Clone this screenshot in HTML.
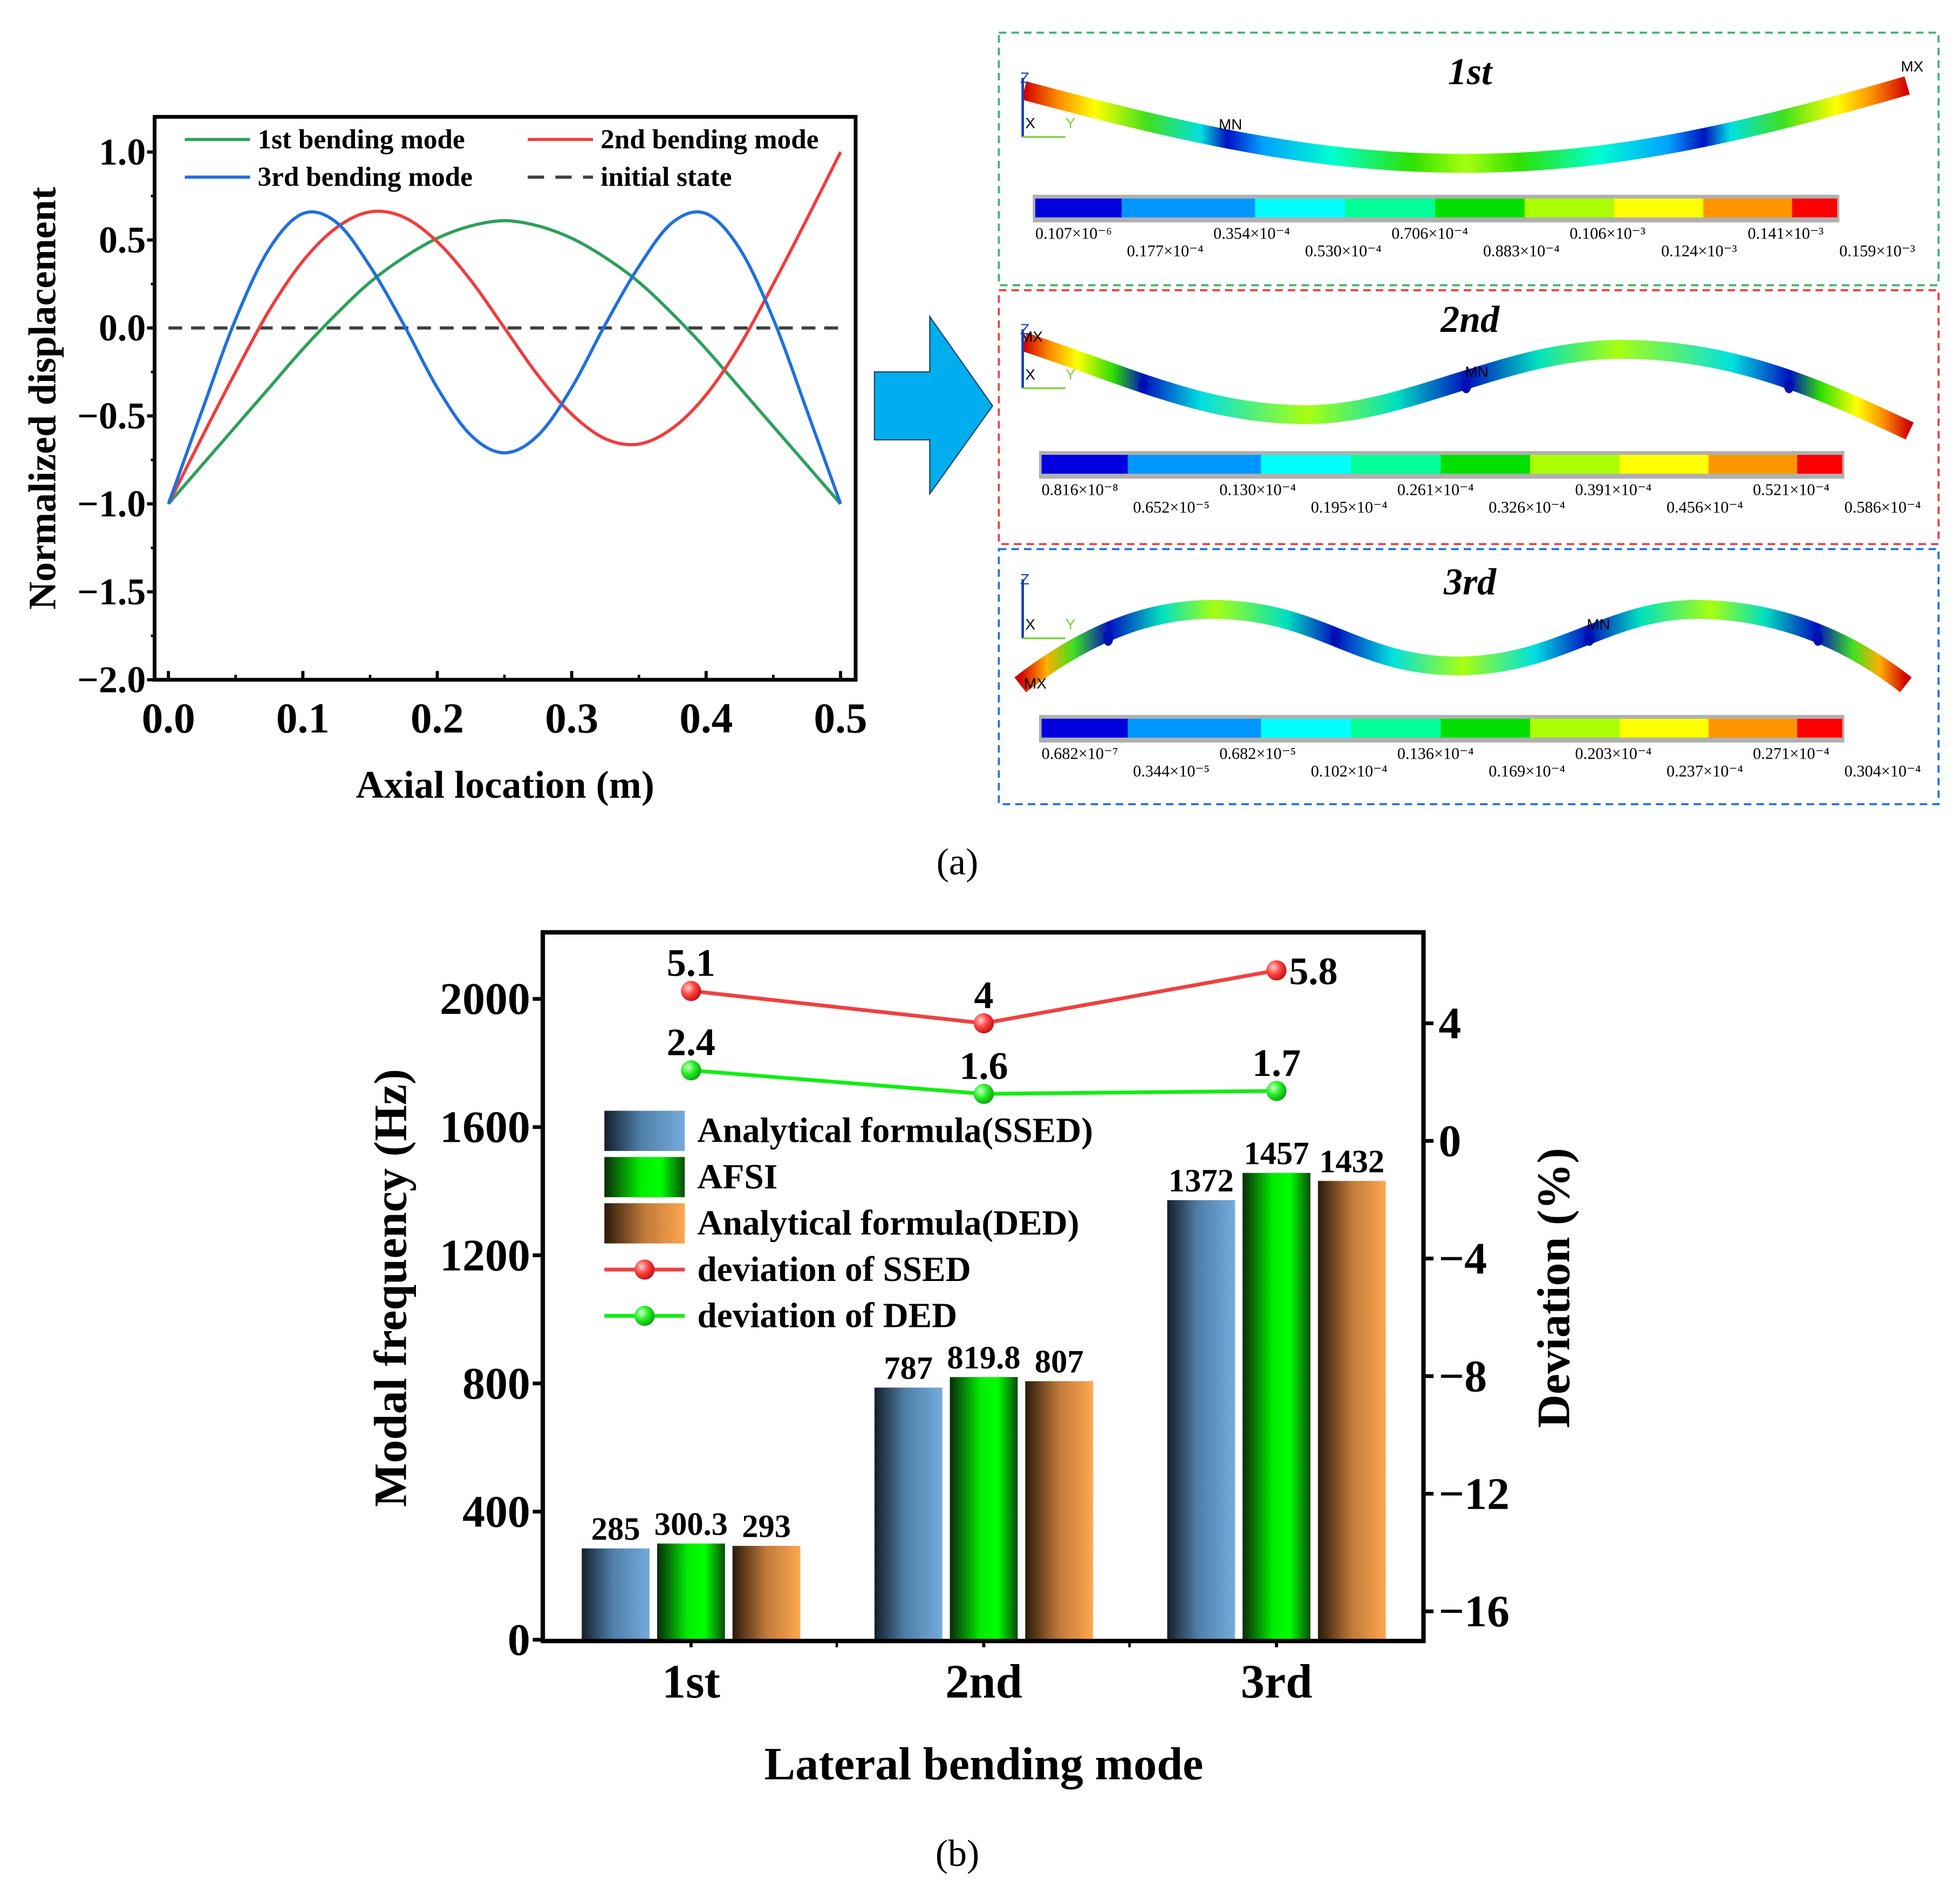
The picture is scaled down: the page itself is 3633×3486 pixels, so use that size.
<!DOCTYPE html>
<html><head><meta charset="utf-8"><style>
html,body{margin:0;padding:0;background:#fff;}
svg{display:block;font-family:"Liberation Serif",serif;}
</style></head><body>
<svg id="fig" width="3633" height="3486" viewBox="0 0 1560 1497" xmlns="http://www.w3.org/2000/svg">
<defs>
<linearGradient id="gBlue" x1="0" x2="1" y1="0" y2="0"><stop offset="0" stop-color="#141e2a"/><stop offset="0.45" stop-color="#4f7fa8"/><stop offset="1" stop-color="#74abdc"/></linearGradient>
<linearGradient id="gGreen" x1="0" x2="1" y1="0" y2="0"><stop offset="0" stop-color="#0a2a0a"/><stop offset="0.45" stop-color="#00ee00"/><stop offset="0.7" stop-color="#00ff00"/><stop offset="1" stop-color="#0a4a0a"/></linearGradient>
<linearGradient id="gOrange" x1="0" x2="1" y1="0" y2="0"><stop offset="0" stop-color="#2a1a0a"/><stop offset="0.5" stop-color="#c07a3a"/><stop offset="1" stop-color="#ffa74f"/></linearGradient>
<radialGradient id="bRed" cx="0.35" cy="0.35" r="0.7"><stop offset="0" stop-color="#ffd0d0"/><stop offset="0.5" stop-color="#ff4040"/><stop offset="1" stop-color="#c01010"/></radialGradient>
<radialGradient id="bGreen" cx="0.35" cy="0.35" r="0.7"><stop offset="0" stop-color="#d0ffd0"/><stop offset="0.5" stop-color="#22ee22"/><stop offset="1" stop-color="#10a010"/></radialGradient>
<linearGradient id="beam1" x1="0" x2="1"><stop offset="0" stop-color="#d00000"/><stop offset="0.04" stop-color="#ff9000"/><stop offset="0.08" stop-color="#ffff00"/><stop offset="0.14" stop-color="#40e020"/><stop offset="0.2" stop-color="#00e0e0"/><stop offset="0.23" stop-color="#0010c0"/><stop offset="0.27" stop-color="#00a0ff"/><stop offset="0.35" stop-color="#00ffd0"/><stop offset="0.44" stop-color="#30e000"/><stop offset="0.5" stop-color="#a8ff10"/><stop offset="0.56" stop-color="#30e000"/><stop offset="0.65" stop-color="#00ffd0"/><stop offset="0.73" stop-color="#00a0ff"/><stop offset="0.77" stop-color="#0010c0"/><stop offset="0.8" stop-color="#00e0e0"/><stop offset="0.86" stop-color="#40e020"/><stop offset="0.92" stop-color="#ffff00"/><stop offset="0.96" stop-color="#ff9000"/><stop offset="1" stop-color="#d00000"/></linearGradient>
<linearGradient id="beam2" x1="0" x2="1"><stop offset="0" stop-color="#d00000"/><stop offset="0.03" stop-color="#ff9000"/><stop offset="0.06" stop-color="#ffff00"/><stop offset="0.1" stop-color="#30e000"/><stop offset="0.135" stop-color="#0010c0"/><stop offset="0.2" stop-color="#00e0e0"/><stop offset="0.32" stop-color="#a8ff10"/><stop offset="0.42" stop-color="#00e0c0"/><stop offset="0.5" stop-color="#0010c0"/><stop offset="0.58" stop-color="#00e0c0"/><stop offset="0.67" stop-color="#a8ff10"/><stop offset="0.8" stop-color="#00e0e0"/><stop offset="0.865" stop-color="#0010c0"/><stop offset="0.9" stop-color="#30e000"/><stop offset="0.94" stop-color="#ffff00"/><stop offset="0.97" stop-color="#ff9000"/><stop offset="1" stop-color="#d00000"/></linearGradient>
<linearGradient id="beam3" x1="0" x2="1"><stop offset="0" stop-color="#d00000"/><stop offset="0.03" stop-color="#ffb000"/><stop offset="0.06" stop-color="#40e020"/><stop offset="0.1" stop-color="#0010c0"/><stop offset="0.16" stop-color="#00e0c0"/><stop offset="0.22" stop-color="#a8ff10"/><stop offset="0.3" stop-color="#00e0c0"/><stop offset="0.356" stop-color="#0010c0"/><stop offset="0.42" stop-color="#00e0e0"/><stop offset="0.5" stop-color="#a8ff10"/><stop offset="0.58" stop-color="#00e0e0"/><stop offset="0.642" stop-color="#0010c0"/><stop offset="0.7" stop-color="#00e0c0"/><stop offset="0.78" stop-color="#a8ff10"/><stop offset="0.84" stop-color="#00e0c0"/><stop offset="0.9" stop-color="#0010c0"/><stop offset="0.94" stop-color="#40e020"/><stop offset="0.97" stop-color="#ffb000"/><stop offset="1" stop-color="#d00000"/></linearGradient>
</defs>
<g id="panelA"></g>
<g id="arrow"><polygon points="696,296 740,296 740,252 790,323 740,393 740,350 696,350" fill="#00aeef" stroke="#1a4a6a" stroke-width="1"/></g>
<g id="fe"></g>
<g id="panelB"></g>
<text x="762" y="696" font-size="30" text-anchor="middle">(a)</text>
<text x="762" y="1485" font-size="30" text-anchor="middle">(b)</text>
</svg>
<script>
// ---------- Panel (a) data ----------
const axialX = [0,0.025,0.05,0.075,0.1,0.125,0.15,0.175,0.2,0.225,0.25,0.275,0.3,0.325,0.35,0.375,0.4,0.425,0.45,0.475,0.5];
const mode1 = [-1,-0.78,-0.56,-0.34,-0.12,0.08,0.26,0.40,0.51,0.58,0.61,0.58,0.51,0.40,0.26,0.08,-0.12,-0.34,-0.56,-0.78,-1];
const mode2 = [-1,-0.62,-0.25,0.10,0.38,0.57,0.66,0.63,0.49,0.27,0,-0.27,-0.49,-0.63,-0.66,-0.57,-0.38,-0.10,0.25,0.62,1];
const mode3 = [-1,-0.47,0.05,0.45,0.65,0.60,0.35,0.02,-0.34,-0.61,-0.71,-0.61,-0.34,0.02,0.35,0.60,0.65,0.45,0.05,-0.47,-1];
const xTicksA = [0,0.1,0.2,0.3,0.4,0.5];
const xTickLabelsA = ["0.0","0.1","0.2","0.3","0.4","0.5"];
const yTicksA = [1,0.5,0,-0.5,-1,-1.5,-2];
const yTickLabelsA = ["1.0","0.5","0.0","\u22120.5","\u22121.0","\u22121.5","\u22122.0"];
// ---------- Panel (b) data ----------
const categories = ["1st","2nd","3rd"];
const freqSSED = [285,787,1372];
const freqAFSI = [300.3,819.8,1457];
const freqDED = [293,807,1432];
const labelsSSED = ["285","787","1372"];
const labelsAFSI = ["300.3","819.8","1457"];
const labelsDED = ["293","807","1432"];
const devSSED = [5.1,4,5.8];
const devDED = [2.4,1.6,1.7];
const devSSEDLabels = ["5.1","4","5.8"];
const devDEDLabels = ["2.4","1.6","1.7"];
const yTicksB = [0,400,800,1200,1600,2000];
const yTicksR = [4,0,-4,-8,-12,-16];
const yTickLabelsR = ["4","0","\u22124","\u22128","\u221212","\u221216"];

const NS="http://www.w3.org/2000/svg";
function mk(tag,attrs,parent,txt){const e=document.createElementNS(NS,tag);for(const k in attrs)e.setAttribute(k,attrs[k]);if(txt!==undefined)e.textContent=txt;parent.appendChild(e);return e;}
function smooth(pts){let d="M"+pts[0][0]+","+pts[0][1];for(let i=0;i<pts.length-1;i++){const p0=pts[Math.max(i-1,0)],p1=pts[i],p2=pts[i+1],p3=pts[Math.min(i+2,pts.length-1)];const c1x=p1[0]+(p2[0]-p0[0])/6,c1y=p1[1]+(p2[1]-p0[1])/6,c2x=p2[0]-(p3[0]-p1[0])/6,c2y=p2[1]-(p3[1]-p1[1])/6;d+=" C"+c1x+","+c1y+" "+c2x+","+c2y+" "+p2[0]+","+p2[1];}return d;}

// ===== Panel A =====
(function(){
const g=document.getElementById('panelA');
const L=123,R=681,T=93,B=541;
const sx=v=>134+v*1070, sy=v=>121+(1-v)*140;
mk('line',{x1:sx(0),x2:sx(0.5),y1:sy(0),y2:sy(0),stroke:'#404040','stroke-width':2.5,'stroke-dasharray':'11 7',},g);
const series=[[mode1,'#2ca05a','mode1-line'],[mode2,'#f03c3c','mode2-line'],[mode3,'#1f6fe0','mode3-line']];
series.forEach(s=>{const p=mk('path',{d:smooth(axialX.map((x,i)=>[sx(x),sy(s[0][i])])),fill:'none',stroke:s[1],'stroke-width':2.5},g);

});
mk('rect',{x:L,y:T,width:R-L,height:B-T,fill:'none',stroke:'#000','stroke-width':3,},g);
xTicksA.forEach((v,i)=>{mk('line',{x1:sx(v),x2:sx(v),y1:B,y2:B-7,stroke:'#000','stroke-width':2.5},g);
const t=mk('text',{x:sx(v),y:B+42,'font-size':34,'font-weight':'bold','text-anchor':'middle'},g,xTickLabelsA[i]);


if(i<xTicksA.length-1)mk('line',{x1:sx(v+0.05),x2:sx(v+0.05),y1:B,y2:B-4,stroke:'#000','stroke-width':2},g);});
yTicksA.forEach((v,i)=>{mk('line',{x1:L,x2:L-6,y1:sy(v),y2:sy(v),stroke:'#000','stroke-width':2.5},g);
if(i<yTicksA.length-1)mk('line',{x1:L,x2:L-3,y1:sy(v-0.25),y2:sy(v-0.25),stroke:'#000','stroke-width':2},g);
const t=mk('text',{x:L-7,y:sy(v)+10,'font-size':30,'font-weight':'bold','text-anchor':'end'},g,yTickLabelsA[i]);

});
mk('text',{x:402,y:635,'font-size':31,'font-weight':'bold','text-anchor':'middle',},g,'Axial location (m)');
mk('text',{x:0,y:0,transform:'translate(44,317) rotate(-90)','font-size':31,'font-weight':'bold','text-anchor':'middle',},g,'Normalized displacement');
const leg=[[147,111,'#2ca05a','1st bending mode',false],[420,111,'#f03c3c','2nd bending mode',false],[147,141,'#1f6fe0','3rd bending mode',false],[420,141,'#404040','initial state',true]];
leg.forEach(l=>{const lg=mk('g',{},g);


mk('line',{x1:l[0],x2:l[0]+52,y1:l[1],y2:l[1],stroke:l[2],'stroke-width':2.5,'stroke-dasharray':l[4]?'13 9':'none'},lg);
mk('text',{x:l[0]+58,y:l[1]+7,'font-size':22,'font-weight':'bold'},lg,l[3]);});
})();

// ===== FE panels =====
(function(){
const g=document.getElementById('fe');
const cb=['#0000e0','#0096ff','#00ffff','#00ff96','#00e000','#aaff00','#ffff00','#ff9600','#ff0000'];
const cbw=[139,215,145,145,144,144,144,143,72];
const cbTotal=cbw.reduce((a,b)=>a+b,0);
const boxes=[
 {y0:26,y1:227,col:'#3cb371',title:'1st',ty:67,beam:'M815,72 C950,108 1050,130 1166,130 C1280,130 1380,108 1518,68',grad:'beam1',cby:158,x0:824,x1:1462,
  labU:['0.107\u00d710\u207b\u2076','0.354\u00d710\u207b\u2074','0.706\u00d710\u207b\u2074','0.106\u00d710\u207b\u00b3','0.141\u00d710\u207b\u00b3'],
  labL:['0.177\u00d710\u207b\u2074','0.530\u00d710\u207b\u2074','0.883\u00d710\u207b\u2074','0.124\u00d710\u207b\u00b3','0.159\u00d710\u207b\u00b3'],
  mn:[[970,103,'MN']],mx:[[1513,57,'MX']],dots:[]},
 {y0:231,y1:433,col:'#ee3c3c',title:'2nd',ty:264,beam:'M815,272 C900,300 960,330 1040,330 C1120,330 1200,278 1290,278 C1380,278 1450,310 1520,343',grad:'beam2',cby:362,x0:829,x1:1466,
  labU:['0.816\u00d710\u207b\u2078','0.130\u00d710\u207b\u2074','0.261\u00d710\u207b\u2074','0.391\u00d710\u207b\u2074','0.521\u00d710\u207b\u2074'],
  labL:['0.652\u00d710\u207b\u2075','0.195\u00d710\u207b\u2074','0.326\u00d710\u207b\u2074','0.456\u00d710\u207b\u2074','0.586\u00d710\u207b\u2074'],
  mn:[[1166,300,'MN']],mx:[[812,272,'MX']],dots:[[910,307],[1167,307],[1424,307]]},
 {y0:437,y1:640,col:'#1f6fe0',title:'3rd',ty:473,beam:'M812,545 C870,500 920,485 965,485 C1050,485 1080,530 1160,530 C1240,530 1280,485 1350,485 C1400,485 1460,500 1517,545',grad:'beam3',cby:572,x0:829,x1:1466,
  labU:['0.682\u00d710\u207b\u2077','0.682\u00d710\u207b\u2075','0.136\u00d710\u207b\u2074','0.203\u00d710\u207b\u2074','0.271\u00d710\u207b\u2074'],
  labL:['0.344\u00d710\u207b\u2075','0.102\u00d710\u207b\u2074','0.169\u00d710\u207b\u2074','0.237\u00d710\u207b\u2074','0.304\u00d710\u207b\u2074'],
  mn:[[1263,501,'MN']],mx:[[815,548,'MX']],dots:[[882,508],[1063,508],[1265,508],[1447,508]]}
];
boxes.forEach((b,bi)=>{
 const bg=mk('g',{},g);
 
 
 mk('rect',{x:795,y:b.y0,width:748,height:b.y1-b.y0,fill:'none',stroke:b.col,'stroke-width':1.6,'stroke-dasharray':'6 4'},bg);
 mk('text',{x:1170,y:b.ty,'font-size':30,'font-weight':'bold','font-style':'italic','text-anchor':'middle'},bg,b.title);
 mk('path',{d:b.beam,fill:'none',stroke:'url(#'+b.grad+')','stroke-width':15},bg);
 b.dots.forEach(d=>mk('ellipse',{cx:d[0],cy:d[1],rx:4,ry:6,fill:'#0010b0'},bg));
 b.mn.concat(b.mx).forEach(m=>mk('text',{x:m[0],y:m[1],'font-size':12,'font-family':'Liberation Sans'},bg,m[2]));
 const ty=bi==0?56:(bi==1?256:455);
 mk('line',{x1:814,x2:814,y1:ty+6,y2:ty+53,stroke:'#1040c0','stroke-width':2},bg);
 mk('line',{x1:814,x2:848,y1:ty+53,y2:ty+53,stroke:'#80d040','stroke-width':1.5},bg);
 mk('text',{x:812,y:ty+10,'font-size':12,fill:'#1040c0','font-family':'Liberation Sans'},bg,'Z');
 mk('text',{x:816,y:ty+46,'font-size':12,'font-family':'Liberation Sans'},bg,'X');
 mk('text',{x:848,y:ty+46,'font-size':12,fill:'#80d040','font-family':'Liberation Sans'},bg,'Y');
 const scale=(b.x1-b.x0)/cbTotal; let cx=b.x0;
 mk('rect',{x:b.x0-2,y:b.cby-3,width:b.x1-b.x0+4,height:22,fill:'#b0b0b0'},bg);
 cb.forEach((c,i)=>{const w=cbw[i]*scale;mk('rect',{x:cx,y:b.cby,width:w+0.3,height:15,fill:c},bg);cx+=w;});
 const step=(b.x1-b.x0)/9;
 b.labU.forEach((t,i)=>mk('text',{x:b.x0+2*i*step,y:b.cby+32,'font-size':13},bg,t));
 b.labL.forEach((t,i)=>mk('text',{x:b.x0+(2*i+1)*step+2,y:b.cby+46,'font-size':13},bg,t));
});
})();

// ===== Panel B =====
(function(){
const g=document.getElementById('panelB');
const L=432,R=1133,T=742,B=1306;
const cx=i=>550+i*233;
const yL=v=>1305-v*0.255;
const yR=v=>908-v*23.4;
const series=[[freqSSED,labelsSSED,'url(#gBlue)',-60,'bar-ssed'],[freqAFSI,labelsAFSI,'url(#gGreen)',0,'bar-afsi'],[freqDED,labelsDED,'url(#gOrange)',60,'bar-ded']];
series.forEach(s=>{categories.forEach((c,i)=>{const x=cx(i)+s[3]-27;
 const r=mk('rect',{x:x,y:yL(s[0][i]),width:54,height:yL(0)-yL(s[0][i]),fill:s[2]},g);
 
 
 const t=mk('text',{x:cx(i)+s[3],y:yL(s[0][i])-7,'font-size':26,'font-weight':'bold','text-anchor':'middle'},g,s[1][i]);
 
 });});
const lines=[[devSSED,devSSEDLabels,'#f04040','url(#bRed)','ssed-deviation-line'],[devDED,devDEDLabels,'#11ee11','url(#bGreen)','ded-deviation-line']];
lines.forEach((l,li)=>{
 const p=mk('polyline',{points:categories.map((c,i)=>cx(i)+','+yR(l[0][i])).join(' '),fill:'none',stroke:l[2],'stroke-width':3},g);
 
 
 categories.forEach((c,i)=>{mk('circle',{cx:cx(i),cy:yR(l[0][i]),r:8,fill:l[3]},g);
  let tx=cx(i),ty=yR(l[0][i])-12,anc='middle';
  if(li==0&&i==2){tx=cx(i)+10;ty=yR(l[0][i])+11;anc='start';}
  const t=mk('text',{x:tx,y:ty,'font-size':31,'font-weight':'bold','text-anchor':anc},g,l[1][i]);
  
  });});
mk('rect',{x:L,y:T,width:R-L,height:B-T,fill:'none',stroke:'#000','stroke-width':3.5,},g);
yTicksB.forEach(v=>{mk('line',{x1:L,x2:L-8,y1:yL(v),y2:yL(v),stroke:'#000','stroke-width':3},g);
 const t=mk('text',{x:L-10,y:yL(v)+12,'font-size':36,'font-weight':'bold','text-anchor':'end'},g,String(v));
 
 });
yTicksR.forEach((v,i)=>{mk('line',{x1:R,x2:R+8,y1:yR(v),y2:yR(v),stroke:'#000','stroke-width':3},g);
 const t=mk('text',{x:R+12,y:yR(v)+12,'font-size':36,'font-weight':'bold'},g,yTickLabelsR[i]);
 
 });
categories.forEach((c,i)=>{mk('line',{x1:cx(i),x2:cx(i),y1:B,y2:B+5,stroke:'#000','stroke-width':2.5},g);
 const t=mk('text',{x:cx(i),y:B+45,'font-size':38,'font-weight':'bold','text-anchor':'middle'},g,c);
 
 });
[666,899].forEach(x=>mk('line',{x1:x,x2:x,y1:B,y2:B+5,stroke:'#000','stroke-width':2},g));
mk('text',{x:783,y:1416,'font-size':37,'font-weight':'bold','text-anchor':'middle',},g,'Lateral bending mode');
mk('text',{x:0,y:0,transform:'translate(323,1025) rotate(-90)','font-size':37,'font-weight':'bold','text-anchor':'middle',},g,'Modal frequency (Hz)');
mk('text',{x:0,y:0,transform:'translate(1249,1025) rotate(-90)','font-size':37,'font-weight':'bold','text-anchor':'middle',},g,'Deviation (%)');
const leg=[['url(#gBlue)','Analytical formula(SSED)',0],['url(#gGreen)','AFSI',0],['url(#gOrange)','Analytical formula(DED)',0],['#f04040','deviation of SSED',1],['#11ee11','deviation of DED',2]];
leg.forEach((l,i)=>{const y=900+i*36.8;const lg=mk('g',{},g);
 
 
 if(l[2]==0)mk('rect',{x:481,y:y-16,width:64,height:32,fill:l[0]},lg);
 else{mk('line',{x1:481,x2:545,y1:y,y2:y,stroke:l[0],'stroke-width':3},lg);mk('circle',{cx:513,cy:y,r:8,fill:l[2]==1?'url(#bRed)':'url(#bGreen)'},lg);}
 mk('text',{x:555,y:y+9,'font-size':28,'font-weight':'bold'},lg,l[1]);});
})();
</script>
</body></html>
